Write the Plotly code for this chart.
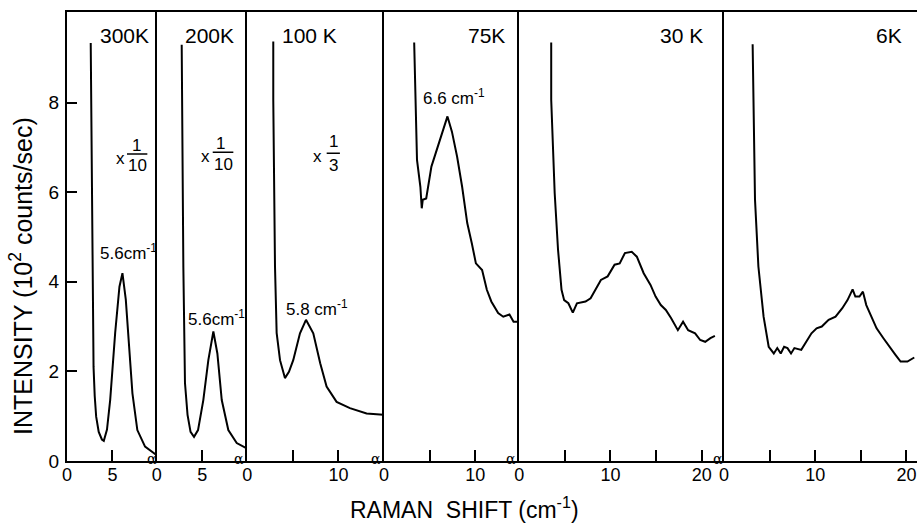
import plotly.graph_objects as go

# ---------------- data ----------------
temps = ["300K", "200K", "100 K", "75K", "30 K", "6K"]

p1_x = [2.61, 2.66, 2.81, 2.92, 3.05, 3.21, 3.49, 3.84, 4.05, 4.4, 4.75, 5.3, 5.77, 6.1, 6.47, 6.83, 7.2, 7.74, 8.59, 9.87]
p1_y = [9.33, 8.06, 4.34, 2.10, 1.45, 0.99, 0.65, 0.48, 0.45, 0.70, 1.36, 2.86, 3.89, 4.19, 3.60, 2.48, 1.51, 0.69, 0.32, 0.13]

p2_x = [2.74, 2.77, 2.92, 3.10, 3.38, 3.71, 4.09, 4.53, 5.11, 5.66, 6.21, 6.65, 7.13, 7.85, 8.77, 9.87]
p2_y = [9.29, 8.06, 4.34, 1.74, 1.03, 0.65, 0.54, 0.69, 1.36, 2.25, 2.89, 2.40, 1.36, 0.69, 0.40, 0.28]

p3_x = [2.85, 2.85, 3.04, 3.22, 3.59, 4.13, 4.57, 5.04, 5.78, 6.44, 7.24, 8.00, 8.70, 9.80, 11.26, 13.09, 14.92]
p3_y = [9.36, 8.06, 4.34, 2.86, 2.25, 1.85, 1.99, 2.25, 2.85, 3.15, 2.85, 2.18, 1.66, 1.32, 1.18, 1.06, 1.03]

p4_x = [3.31, 3.43, 3.62, 3.99, 4.14, 4.25, 4.63, 5.20, 5.76, 6.32, 6.96, 7.45, 8.02, 8.57, 9.13,
        9.63, 10.08, 10.76, 11.28, 11.77, 12.52, 13.08, 13.76, 14.21, 14.77]
p4_y = [9.34, 8.06, 6.72, 6.12, 5.64, 5.83, 5.86, 6.57, 6.94, 7.32, 7.69, 7.35, 6.79, 6.12, 5.31,
        4.86, 4.41, 4.26, 3.82, 3.56, 3.30, 3.22, 3.27, 3.11, 3.11]

p5_x = [3.50, 3.50, 3.88, 4.25, 4.63, 4.92, 5.38, 5.87, 6.32, 7.26, 7.82, 8.38, 8.95, 9.69, 10.45, 11.01,
        11.58, 12.33, 12.89, 13.64, 14.39, 14.95, 15.52, 16.07, 16.64, 17.39, 17.96, 18.52, 19.28,
        19.84, 20.39, 20.96, 21.45]
p5_y = [9.34, 8.06, 5.98, 4.71, 3.82, 3.59, 3.52, 3.31, 3.52, 3.56, 3.63, 3.82, 4.04, 4.12, 4.38, 4.41,
        4.64, 4.67, 4.56, 4.19, 3.93, 3.67, 3.48, 3.37, 3.19, 2.92, 3.11, 2.92, 2.85,
        2.70, 2.66, 2.74, 2.79]

p6_x = [3.14, 3.21, 3.40, 3.77, 4.34, 4.90, 5.46, 5.84, 6.22, 6.59, 6.96, 7.35, 7.72, 8.47, 9.03, 9.59,
        10.15, 10.72, 11.47, 12.23, 12.97, 13.54, 14.10, 14.40, 14.85, 15.23, 15.60, 16.16, 16.73,
        17.48, 18.23, 18.80, 19.36, 20.11, 20.86]
p6_y = [9.30, 8.06, 5.83, 4.34, 3.22, 2.55, 2.40, 2.52, 2.40, 2.55, 2.52, 2.40, 2.52, 2.48, 2.66, 2.85,
        2.96, 3.00, 3.15, 3.22, 3.41, 3.59, 3.83, 3.67, 3.67, 3.78, 3.48, 3.22, 2.96,
        2.74, 2.52, 2.37, 2.22, 2.22, 2.31]

x_ranges = [[0, 9.87], [0, 9.93], [0, 15.0], [0, 14.84], [0, 22.45], [0, 21.16]]
x_tickvals = [[0, 5], [0, 5], [0, 10], [0, 10], [0, 10, 20], [0, 10, 20]]
x_ticktext = [["0", "5"], ["0", "5"], ["0", "10"], ["0", "10"], ["0", "10", "20"], ["0", "10", "20"]]
x_minor_ticks = [[], [], [5], [5], [5, 15], [5, 15]]
y_tickvals = [0, 2, 4, 6, 8]
y_ticktext = ["0", "2", "4", "6", "8"]

peak_labels = ["5.6cm<sup>-1</sup>", "5.6cm<sup>-1</sup>", "5.8 cm<sup>-1</sup>", "6.6 cm<sup>-1</sup>"]
scale_num = ["1", "1", "1"]
scale_den = ["10", "10", "3"]

series_x = [p1_x, p2_x, p3_x, p4_x, p5_x, p6_x]
series_y = [p1_y, p2_y, p3_y, p4_y, p5_y, p6_y]

# ---------------- layout geometry ----------------
W, H = 917, 531
L, R, T, B = 67, 0, 12, 70
edges_px = [67.0, 156.7, 247.3, 384.0, 519.3, 724.0, 917.0]
pw = W - L - R
ph = H - T - B
domains = [[(edges_px[i] - L) / pw, (edges_px[i + 1] - L) / pw] for i in range(6)]

FONT = "Liberation Sans, Arial, sans-serif"
fig = go.Figure()
layout = dict(
    width=W, height=H, margin=dict(l=L, r=R, t=T, b=B, autoexpand=False),
    paper_bgcolor="white", plot_bgcolor="white", showlegend=False,
    font=dict(family=FONT, color="black", size=18),
)

for i in range(6):
    sfx = "" if i == 0 else str(i + 1)
    fig.add_trace(go.Scatter(x=series_x[i], y=series_y[i], mode="lines",
                             line=dict(color="black", width=2),
                             xaxis="x" + sfx, yaxis="y" + sfx, hoverinfo="skip"))
    xa = dict(
        domain=domains[i], range=x_ranges[i], anchor="y" + sfx,
        tickmode="array", tickvals=x_tickvals[i], ticktext=x_ticktext[i],
        ticks="inside", ticklen=11, tickwidth=2, tickcolor="black",
        showline=True, linecolor="black", linewidth=2, mirror=True,
        showgrid=False, zeroline=False, ticklabelstandoff=-4,
        tickfont=dict(size=18, family=FONT),
    )
    if x_minor_ticks[i]:
        xa["minor"] = dict(tickmode="array", tickvals=x_minor_ticks[i], ticks="inside",
                           ticklen=11, tickwidth=2, tickcolor="black", showgrid=False)
    layout["xaxis" + sfx] = xa
    ya = dict(
        domain=[0, 1], range=[0, 10.02], anchor="x" + sfx,
        showline=True, linecolor="black", linewidth=2, mirror=False,
        showgrid=False, zeroline=False,
    )
    if i == 0:
        ya.update(tickmode="array", tickvals=y_tickvals, ticktext=y_ticktext, ticks="inside",
                  ticklen=10, tickwidth=2, tickcolor="black", ticklabelstandoff=2,
                  tickfont=dict(size=19, family=FONT))
    else:
        ya.update(showticklabels=False, ticks="")
    layout["yaxis" + sfx] = ya

fig.update_layout(**layout)

def ax(i):
    sfx = "" if i == 0 else str(i + 1)
    return "x" + sfx, "y" + sfx

annos = []
# temperature labels
title_pos = [(6.36, 9.49), (5.76, 9.49), (6.82, 9.49), (11.26, 9.5), (17.76, 9.5), (18.14, 9.5)]
for i, (tx, ty) in enumerate(title_pos):
    xr, yr = ax(i)
    annos.append(dict(x=tx, y=ty, xref=xr, yref=yr, text=temps[i], showarrow=False,
                      xanchor="center", yanchor="middle", font=dict(size=21, family=FONT)))
# peak labels
peak_pos = [(6.76, 4.66), (6.5, 3.2), (7.68, 3.41), (7.73, 8.13)]
for i, (tx, ty) in enumerate(peak_pos):
    xr, yr = ax(i)
    annos.append(dict(x=tx, y=ty, xref=xr, yref=yr, text=peak_labels[i], showarrow=False,
                      xanchor="center", yanchor="middle", font=dict(size=17, family=FONT)))
# scale factors  x 1/10 etc.
x_pos = [(5.94, 6.76), (5.39, 6.79), (7.7, 6.79)]
num_pos = [(7.6, 7.03), (7.0, 7.09), (9.43, 7.13)]
den_pos = [(7.71, 6.59), (7.27, 6.61), (9.43, 6.59)]
bars = [(6.6, 8.84, 6.85), (6.14, 8.4, 6.89), (8.71, 10.16, 6.87)]
shapes = []
for i in range(3):
    xr, yr = ax(i)
    annos.append(dict(x=x_pos[i][0], y=x_pos[i][1], xref=xr, yref=yr, text="x",
                      showarrow=False, font=dict(size=17, family=FONT)))
    annos.append(dict(x=num_pos[i][0], y=num_pos[i][1], xref=xr, yref=yr, text=scale_num[i],
                      showarrow=False, font=dict(size=17, family=FONT)))
    annos.append(dict(x=den_pos[i][0], y=den_pos[i][1], xref=xr, yref=yr, text=scale_den[i],
                      showarrow=False, font=dict(size=17, family=FONT)))
    shapes.append(dict(type="line", xref=xr, yref=yr, x0=bars[i][0], x1=bars[i][1],
                       y0=bars[i][2], y1=bars[i][2], line=dict(color="black", width=1.5)))
# axis-break marks at the end of the first five panels
break_x = [9.3, 9.0, 14.1, 13.9, 21.8]
for i, bx in enumerate(break_x):
    xr, yr = ax(i)
    annos.append(dict(x=bx, y=0.05, xref=xr, yref=yr, text="α", showarrow=False,
                      font=dict(size=14, family="DejaVu Serif")))
# axis titles
annos.append(dict(x=(464 - L) / pw, y=(461 - 508) / ph, xref="paper", yref="paper",
                  xanchor="center", yanchor="middle",
                  text="RAMAN  SHIFT (cm<sup>-1</sup>)", showarrow=False,
                  font=dict(size=23, family=FONT)))
annos.append(dict(x=(21 - L) / pw, y=(461 - 276) / ph, xref="paper", yref="paper",
                  xanchor="center", yanchor="middle",
                  text="INTENSITY (10<sup>2</sup> counts/sec)", textangle=-90, showarrow=False,
                  font=dict(size=25, family=FONT)))

fig.update_layout(annotations=annos, shapes=shapes)
fig.write_html("out.html", config={"displayModeBar": False},
               post_script="document.body.style.margin='0';")
